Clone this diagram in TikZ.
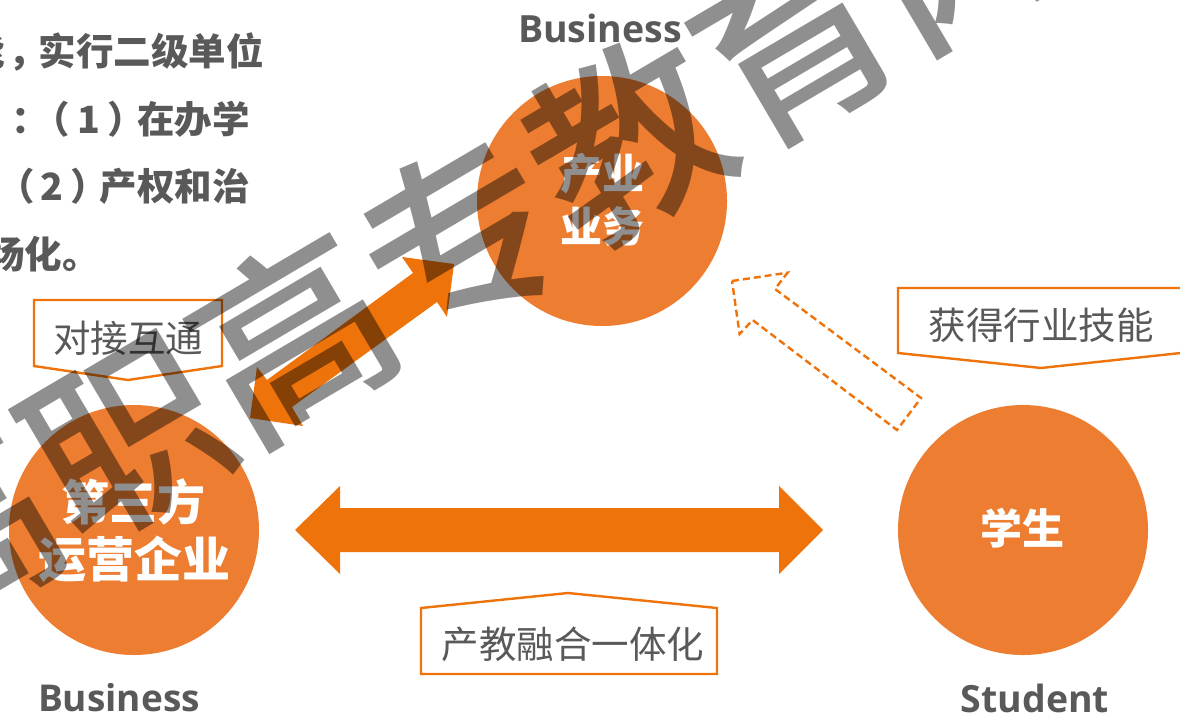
\documentclass[tikz,border=0pt]{standalone}
\usepackage{fontspec}
\setmainfont{Open Sans}
\newfontfamily\cjk{Noto Sans CJK SC}
\newfontfamily\wmfont{Noto Sans CJK SC Medium}
\definecolor{circ}{HTML}{ED7D31}
\definecolor{arrowc}{HTML}{EE730A}
\definecolor{ink}{HTML}{595959}
\newcommand{\fs}[1]{\fontsize{#1}{#1}\selectfont}
\tikzset{
  bubble/.style={circle,fill=circ,minimum size=250pt,inner sep=0pt},
  bubtext/.style={text=white,font=\cjk\bfseries\fs{#1},inner sep=0pt,anchor=center},
  tag/.style={draw=arrowc,line width=2.4pt,fill=white,line join=miter},
  tagtext/.style={text=ink,font=\cjk\fs{37.5},inner sep=0pt,anchor=center},
  blockarrow/.style={fill=arrowc,draw=none},
  dasharrow/.style={draw=arrowc,line width=2.4pt,dash pattern=on 7pt off 4pt},
  latinlab/.style={text=ink,font=\bfseries\fs{#1},inner sep=0pt,anchor=center},
  para/.style={text=ink,font=\cjk\bfseries\fs{37.5},inner sep=0pt,anchor=east},
  watermark/.style={text=black,text opacity=.44,font=\wmfont\fs{194},inner sep=0pt,anchor=center,rotate=30.5}
}
\begin{document}
\begin{tikzpicture}[x=1pt,y=-1pt]
\useasboundingbox (0,0) rectangle (1180,715);
\clip (0,0) rectangle (1180,715);
% left paragraph
\node[para] (p1) at (264,52) {能\kern3pt ，\kern-3pt\kern-4pt 实行二级单位};
\node[para] (p2) at (250,119) {面\kern13pt ：\kern-17pt （\kern8pt 1\kern7pt ）\kern-8pt 在办学};
\node[para] (p3) at (250,186) {（\kern5pt 2\kern7pt ）\kern-8pt 产权和治};
\node[para] (p4) at (100,254) {场化。};
% labels
\node[latinlab=37.5] (l1) at (600,28) {Business};
\node[latinlab=37] (l2) at (119,698) {Business};
\node[latinlab=37.5] (l3) at (1035,698) {Student};
% circles
\node[bubble] (top) at (602,201) {};
\node[bubble] (left) at (134,530) {};
\node[bubble] (right) at (1023,530) {};
\node[bubtext=42] (t1a) at (602,174) {产业};
\node[bubtext=42] (t1b) at (602,226) {业务};
\node[bubtext=48] (t2a) at (133,502) {第三方};
\node[bubtext=48] (t2b) at (134,559) {运营企业};
\node[bubtext=42] (t3) at (1022,528) {学生};
% block arrows
\fill[blockarrow] (295,530) -- (340,486) -- (340,508) -- (779,508) -- (779,486) -- (823,530) -- (779,574) -- (779,552) -- (340,552) -- (340,574) -- cycle;
\fill[blockarrow] (250,418) -- (257,367) -- (267,380) -- (413,273) -- (402,257) -- (454,264) -- (447,317) -- (437,302) -- (292,407) -- (303,426) -- cycle;
\draw[dasharrow] (732,281) -- (787.5,272.7) -- (775,289) -- (921,398) -- (897,430) -- (752.6,320) -- (739.6,334) -- cycle;
% tags
\draw[tag] (34,300) -- (222,300) -- (222,366) -- (128,380) -- (34,366) -- cycle;
\node[tagtext] (a) at (128,338) {对接互通};
\draw[tag] (898,288) -- (1190,288) -- (1190,352) -- (1041,368) -- (898,353) -- cycle;
\node[tagtext] (b) at (1041,325) {获得行业技能};
\draw[tag] (421,608) -- (568,593) -- (717,608) -- (717,674) -- (421,674) -- cycle;
\node[tagtext] (c) at (573,644) {产教融合一体化};
% watermark
\node[watermark] (wm) at (460,238) {高职高专教育网};
\end{tikzpicture}
\end{document}
